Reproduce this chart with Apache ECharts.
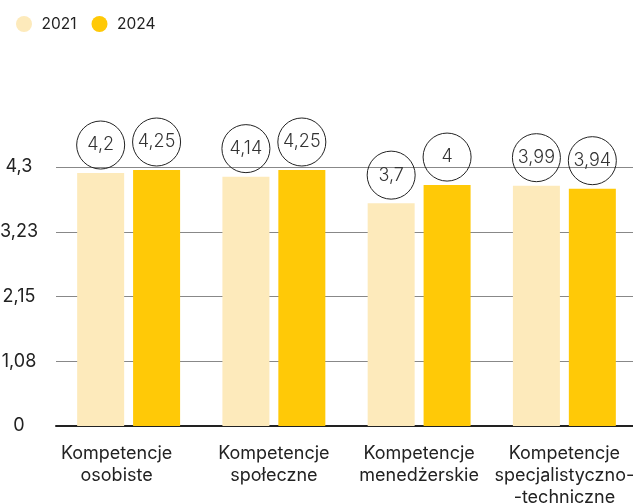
<!DOCTYPE html>
<html>
<head>
<meta charset="utf-8">
<script src="https://cdn.jsdelivr.net/npm/echarts@6/dist/echarts.min.js"></script>
<style>
html, body { margin: 0; padding: 0; background: #fff; }
#main { width: 633px; height: 504px; }
</style>
</head>
<body>
<div id="main"></div>
<script>
const categories = [
  'Kompetencje\nosobiste',
  'Kompetencje\nspołeczne',
  'Kompetencje\nmenedżerskie',
  'Kompetencje\nspecjalistyczno-\n-techniczne'
];
const values2021 = [4.2, 4.14, 3.7, 3.99];
const values2024 = [4.25, 4.25, 4, 3.94];
const yMax = 4.3;
const yStep = 1.075;

const fmt = v => String(Math.round(v * 100) / 100).replace('.', ',');

const bubble = {
  show: true,
  position: 'top',
  distance: 4,
  formatter: p => fmt(p.value),
  fontFamily: 'Inter',
  fontSize: 18,
  fontWeight: 300,
  color: '#333',
  borderColor: '#222',
  borderWidth: 1,
  borderRadius: 25,
  width: 48,
  height: 48,
  lineHeight: 48,
  align: 'center',
  padding: 0
};

let chartDom = document.getElementById('main');
let myChart = echarts.init(chartDom);

// first label sits a bit left of its bars in the original
const xData = categories.map((c, i) =>
  i === 0 ? { value: c, textStyle: { padding: [0, 24, 0, 0] } } : c
);

let option = {
  animation: false,
  textStyle: { fontFamily: 'Inter' },
  legend: {
    left: 11,
    top: 11,
    itemWidth: 25,
    itemHeight: 16,
    itemGap: 15,
    icon: 'circle',
    textStyle: { fontSize: 15.5, color: '#222' },
    data: ['2021', '2024']
  },
  grid: { left: 56, right: -4, top: 167, bottom: 78, outerBoundsMode: 'none' },
  xAxis: {
    type: 'category',
    data: xData,
    axisTick: { show: false },
    axisLine: { lineStyle: { color: '#222', width: 2 } },
    axisLabel: { interval: 0, margin: 17, fontSize: 18, lineHeight: 22, color: '#222' }
  },
  yAxis: {
    type: 'value',
    min: 0,
    max: yMax,
    interval: yStep,
    axisLabel: {
      formatter: v => fmt(v),
      fontSize: 18,
      color: '#222',
      align: 'center',
      margin: 37,
      padding: [0, 0, 6, 0]
    },
    splitLine: { lineStyle: { color: '#888', width: 1 } }
  },
  series: [
    {
      name: '2021',
      type: 'bar',
      data: values2021,
      barWidth: 47,
      barGap: '19%',
      itemStyle: { color: '#FDEABB' },
      label: bubble
    },
    {
      name: '2024',
      type: 'bar',
      data: values2024,
      barWidth: 47,
      barGap: '19%',
      itemStyle: { color: '#FFC907' },
      label: bubble
    }
  ]
};

option && myChart.setOption(option);
</script>
</body>
</html>
